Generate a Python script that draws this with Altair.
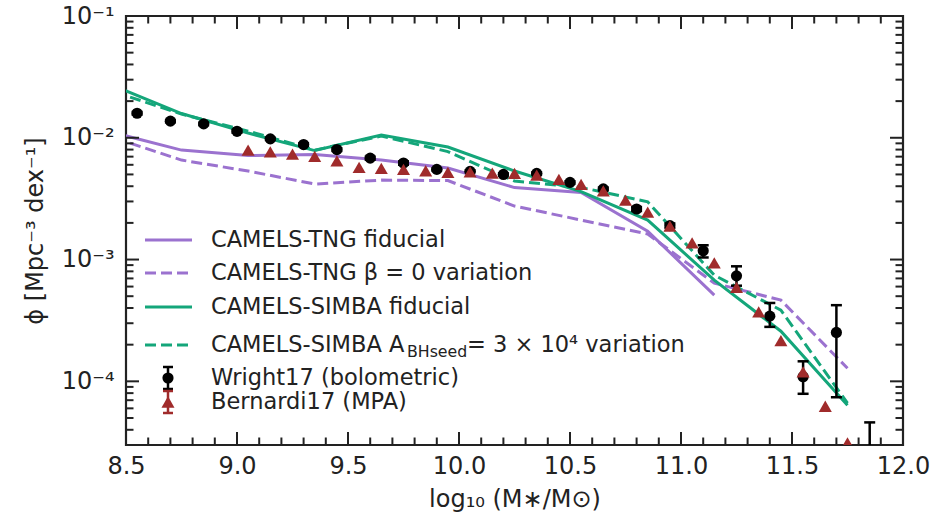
import altair as alt
import pandas as pd

# ---------------- data ----------------
# Wright17 (bolometric)
wr_x = [8.55, 8.70, 8.85, 9.00, 9.15, 9.30, 9.45, 9.60, 9.75, 9.90, 10.05, 10.20,
        10.35, 10.50, 10.65, 10.80, 10.95, 11.10, 11.25, 11.40, 11.55, 11.70, 11.85]
wr_phi = [0.0159, 0.0137, 0.0130, 0.0113, 0.0098, 0.0088, 0.0080, 0.0068, 0.0062, 0.0055,
          0.0053, 0.0050, 0.0051, 0.0043, 0.0038, 0.0026, 0.0019, 0.00118, 0.000735,
          0.000343, 0.000109, 0.000252, 1.5e-5]
wr_lo = [0.0155, 0.0134, 0.0127, 0.0110, 0.0096, 0.0086, 0.0078, 0.0066, 0.0060, 0.0054,
         0.0052, 0.0049, 0.0050, 0.0042, 0.0037, 0.0025, 0.00182, 0.00104, 0.00061,
         0.00028, 7.9e-5, 7.4e-5, 1e-6]
wr_hi = [0.0163, 0.0140, 0.0133, 0.0116, 0.0100, 0.0090, 0.0082, 0.0070, 0.0064, 0.0056,
         0.0054, 0.0051, 0.0052, 0.0044, 0.0039, 0.0027, 0.00198, 0.00131, 0.00088,
         0.00044, 0.000146, 0.000422, 4.6e-5]

# Bernardi17 (MPA)
be_x = [9.05, 9.15, 9.25, 9.35, 9.45, 9.55, 9.65, 9.75, 9.85, 9.95, 10.05, 10.15, 10.25,
        10.35, 10.45, 10.55, 10.65, 10.75, 10.85, 10.95, 11.05, 11.15, 11.25, 11.35,
        11.45, 11.55, 11.65, 11.75]
be_phi = [0.00792, 0.00767, 0.00735, 0.00703, 0.00647, 0.00571, 0.00560, 0.00550, 0.00536,
          0.00520, 0.00525, 0.00513, 0.00510, 0.00494, 0.00455, 0.00414, 0.00367, 0.00308,
          0.00245, 0.00188, 0.00137, 0.00094, 0.00059, 0.000372, 0.000216, 0.0001195,
          6.24e-5, 3.12e-5]

# CAMELS simulations (bin centres)
sim_x = [8.45, 8.75, 9.05, 9.35, 9.65, 9.95, 10.25, 10.55, 10.85, 11.15, 11.45, 11.75]
tng_fid = [0.01093, 0.00792, 0.00714, 0.00728, 0.00656, 0.00564, 0.00390, 0.00355,
           0.00171, 0.00051]
tng_beta0 = [0.00994, 0.00656, 0.00533, 0.00417, 0.00449, 0.00445, 0.00275, 0.00211,
             0.00162, 0.00064, 0.000464, 0.000128]
simba_fid = [0.02649, 0.01581, 0.01093, 0.00785, 0.01052, 0.00839, 0.00533, 0.00361,
             0.00211, 0.000677, 0.000258, 6.36e-5]
simba_seed = [0.02373, 0.01566, 0.01135, 0.00792, 0.01033, 0.00770, 0.00441, 0.00391,
              0.00298, 0.000744, 0.000384, 6.61e-5]

x_major = [8.5, 9.0, 9.5, 10.0, 10.5, 11.0, 11.5, 12.0]
x_minor = [round(8.5 + 0.1 * i, 1) for i in range(36)]
y_major = [1e-4, 1e-3, 1e-2, 1e-1]
y_minor = [m * 10.0 ** e for e in (-5, -4, -3, -2) for m in range(2, 10) if m * 10.0 ** e > 3.05e-5]

legend_labels = ["CAMELS-TNG fiducial", "CAMELS-TNG β = 0 variation", "CAMELS-SIMBA fiducial",
                 "CAMELS-SIMBA A", "Wright17 (bolometric)", "Bernardi17 (MPA)"]

# ---------------- styling ----------------
W, H = 777, 429
PURPLE = "#9b72cf"
GREEN = "#14a67a"
BROWN = "#a02b2b"
INK = "#222222"
FONT = "DejaVu Sans"

xs = alt.Scale(domain=[8.5, 12.0], nice=False, zero=False)
ys = alt.Scale(type="log", domain=[3e-5, 0.1], nice=False)
xaxis = alt.Axis(values=x_major, format=".1f", ticks=False, domain=False, grid=False,
                 labelFontSize=24, labelPadding=9, labelFlush=False, labelOverlap=False,
                 labelColor=INK, titleColor=INK, titleFontSize=24, titleFontWeight="normal",
                 titlePadding=9, title="log₁₀ (M∗/M⊙)")
yaxis = alt.Axis(values=y_major, ticks=False, domain=False, grid=False,
                 labelExpr="datum.value == 0.1 ? '10⁻¹' : datum.value == 0.01 ? '10⁻²' : datum.value == 0.001 ? '10⁻³' : '10⁻⁴'",
                 labelFontSize=24, labelPadding=12, labelFlush=False, labelOverlap=False,
                 labelColor=INK, titleColor=INK, titleFontSize=24, titleFontWeight="normal",
                 titlePadding=14, title="ϕ [Mpc⁻³ dex⁻¹]")


def X(f):
    return alt.X(f, type="quantitative", scale=xs, axis=xaxis)


def Y(f):
    return alt.Y(f, type="quantitative", scale=ys, axis=yaxis)


# ---------------- data layers ----------------
def sim_df(vals):
    return pd.DataFrame({"x": sim_x[:len(vals)], "phi": vals})


lines = []
for vals, col, dash in [(tng_fid, PURPLE, None), (tng_beta0, PURPLE, [11, 5]),
                        (simba_fid, GREEN, None), (simba_seed, GREEN, [11, 5])]:
    kw = dict(color=col, strokeWidth=3, clip=True)
    if dash:
        kw["strokeDash"] = dash
    lines.append(alt.Chart(sim_df(vals)).mark_line(**kw).encode(x=X("x"), y=Y("phi")))

wr = pd.DataFrame({"x": wr_x, "phi": wr_phi, "lo": wr_lo, "hi": wr_hi})
be = pd.DataFrame({"x": be_x, "phi": be_phi})

wr_bar = alt.Chart(wr).mark_rule(color="black", strokeWidth=2.5, clip=True).encode(
    x=X("x"), y=Y("lo"), y2="hi")
wr_cap_lo = alt.Chart(wr).mark_tick(color="black", orient="horizontal", size=11, thickness=2.5,
                                    opacity=1, clip=True).encode(x=X("x"), y=Y("lo"))
wr_cap_hi = alt.Chart(wr).mark_tick(color="black", orient="horizontal", size=11, thickness=2.5,
                                    opacity=1, clip=True).encode(x=X("x"), y=Y("hi"))
wr_pts = alt.Chart(wr).mark_point(shape="circle", filled=True, color="black", size=125,
                                  opacity=1, clip=True).encode(x=X("x"), y=Y("phi"))
be_pts = alt.Chart(be).mark_point(shape="triangle-up", filled=True, color=BROWN, size=170,
                                  opacity=1, clip=True).encode(x=X("x"), y=Y("phi"))

# ---------------- inward ticks on all four sides ----------------
xmaj = pd.DataFrame({"v": x_major})
xmin = pd.DataFrame({"v": [v for v in x_minor if abs(v * 2 - round(v * 2)) > 1e-6]})
ymaj = pd.DataFrame({"v": y_major})
ymin = pd.DataFrame({"v": y_minor})

TICK = dict(color=INK, strokeWidth=2)
tick_layers = []
for df, L in [(xmaj, 13), (xmin, 7.5)]:
    tick_layers.append(alt.Chart(df).mark_rule(**TICK).encode(
        x=X("v"), y=alt.value(H), y2=alt.value(H - L)))
    tick_layers.append(alt.Chart(df).mark_rule(**TICK).encode(
        x=X("v"), y=alt.value(0), y2=alt.value(L)))
for df, L in [(ymaj, 13), (ymin, 7.5)]:
    tick_layers.append(alt.Chart(df).mark_rule(**TICK).encode(
        y=Y("v"), x=alt.value(0), x2=alt.value(L)))
    tick_layers.append(alt.Chart(df).mark_rule(**TICK).encode(
        y=Y("v"), x=alt.value(W), x2=alt.value(W - L)))

# ---------------- legend (drawn inside the axes) ----------------
LX0, LX1, TX, MX = 19, 66, 85, 42
rows = [224, 257, 291, 329, 362, 386]
FS = 22.5


def one(label):
    return alt.Chart(pd.DataFrame({"t": [label]}))


leg = []
for i, (col, dash) in enumerate([(PURPLE, None), (PURPLE, [11, 5]), (GREEN, None), (GREEN, [11, 5])]):
    kw = dict(color=col, strokeWidth=3)
    if dash:
        kw["strokeDash"] = dash
    leg.append(one(legend_labels[i]).mark_rule(**kw).encode(
        x=alt.value(LX0), x2=alt.value(LX1), y=alt.value(rows[i])))

for i in [0, 1, 2, 4, 5]:
    leg.append(one(legend_labels[i]).mark_text(align="left", baseline="middle", fontSize=FS,
                                               font=FONT, color=INK).encode(
        x=alt.value(TX), y=alt.value(rows[i]), text="t:N"))

# SIMBA seed row with sub/superscript
leg.append(one("CAMELS-SIMBA A").mark_text(align="left", baseline="middle", fontSize=FS,
                                           font=FONT, color=INK).encode(
    x=alt.value(TX), y=alt.value(rows[3]), text="t:N"))
leg.append(one("BHseed").mark_text(align="left", baseline="middle", fontSize=FS * 0.7,
                                   font=FONT, color=INK).encode(
    x=alt.value(TX + 196), y=alt.value(rows[3] + 7), text="t:N"))
leg.append(one(" = 3 × 10⁴ variation").mark_text(align="left", baseline="middle", fontSize=FS,
                                                 font=FONT, color=INK).encode(
    x=alt.value(TX + 256), y=alt.value(rows[3]), text="t:N"))

# error-bar legend symbols
for r, col, shape, sz in [(rows[4], "black", "circle", 125), (rows[5], BROWN, "triangle-up", 170)]:
    leg.append(one("s").mark_rule(color=col, strokeWidth=2.5).encode(
        x=alt.value(MX), y=alt.value(r - 11), y2=alt.value(r + 11)))
    for dy in (-11, 11):
        leg.append(one("s").mark_rule(color=col, strokeWidth=2.5).encode(
            x=alt.value(MX - 5), x2=alt.value(MX + 5), y=alt.value(r + dy)))
    leg.append(one("s").mark_point(shape=shape, filled=True, color=col, size=sz, opacity=1).encode(
        x=alt.value(MX), y=alt.value(r)))

chart = alt.layer(*lines, wr_bar, wr_cap_lo, wr_cap_hi, wr_pts, be_pts, *leg, *tick_layers).properties(
    width=W, height=H,
    padding={"left": 126, "top": 16, "right": 30, "bottom": 75},
    autosize=alt.AutoSizeParams(type="none"),
).configure(
    font=FONT, background="white",
    view=alt.ViewConfig(stroke=INK, strokeWidth=2.2),
)

chart.save("out.html", embed_options={"renderer": "svg", "actions": False})
